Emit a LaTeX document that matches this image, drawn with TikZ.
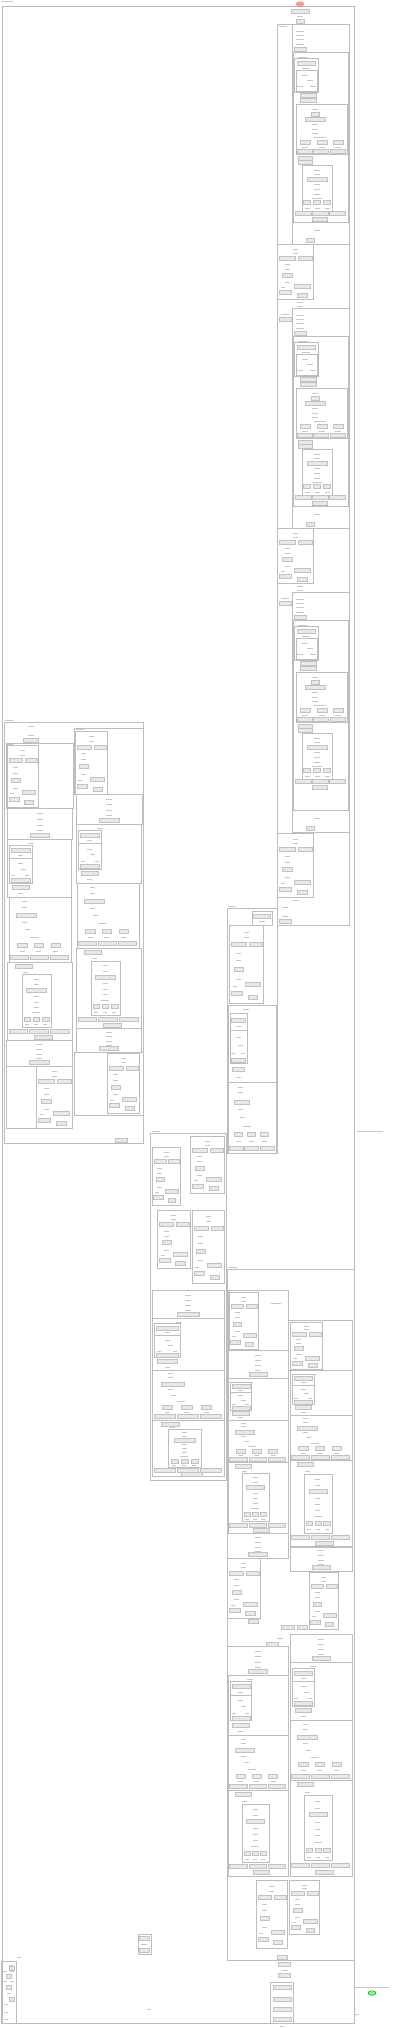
\documentclass[tikz,border=0pt]{standalone}
\begin{document}
\begin{tikzpicture}[x=1pt,y=-1pt,
  box/.style={draw=black!26,line width=0.35pt},
  gn/.style={draw=black!24,fill=black!9,line width=0.2pt},
  tx/.style={draw=black!22,line width=0.5pt}]
\useasboundingbox (0,0) rectangle (400,2028);
\fill[white] (0,0) rectangle (400,2028);
\newcommand{\B}[4]{\draw[box] ({#1},{#2}) rectangle ({#3},{#4});}
\newcommand{\G}[3]{\filldraw[gn] ({#1-(#3)/2},{#2-2}) rectangle ({#1+(#3)/2},{#2+2});}
\newcommand{\T}[3]{\draw[tx] ({#1-(#3)/2},{#2}) -- ({#1+(#3)/2},{#2});}
% core of a composite block: x from 292 to 349
\newcommand{\BlkCore}[2]{%
 \B{292}{#1}{349}{#1+28}
 \T{300}{#1+7}{8}\T{300}{#1+11}{8}\T{300}{#1+15}{8}\T{300}{#1+20}{8}\G{300}{#1+25}{12}
 \B{292}{#1+28}{349}{#1+220+#2}\B{293}{#1+28}{348}{#1+198+#2}
 \T{303}{#1+33}{10}
 \B{294}{#1+34}{318}{#1+68}\G{306}{#1+39}{18}\T{306}{#1+44}{8}
 \B{296}{#1+46}{317}{#1+67}\T{305}{#1+51}{6}\T{310}{#1+56}{6}\T{300}{#1+62}{6}\T{313}{#1+62}{6}
 \G{308}{#1+71}{16}\G{308}{#1+76}{16}
 \B{296}{#1+80}{347}{#1+130}
 \T{315}{#1+85}{6}\G{315}{#1+90}{8}\G{315}{#1+95}{20}\T{315}{#1+100}{6}\T{315}{#1+105}{6}\T{315}{#1+109}{6}\T{320}{#1+113}{12}
 \G{305}{#1+118}{10}\G{322}{#1+118}{10}\G{338}{#1+118}{10}
 \T{305}{#1+123}{6}\T{322}{#1+123}{6}\T{338}{#1+123}{6}
 \G{305}{#1+127}{15}\G{321}{#1+127}{15}\G{338}{#1+127}{15}
 \G{305}{#1+134}{14}\G{305}{#1+138}{14}
 \B{302}{#1+141}{332}{#1+187}
 \T{317}{#1+146}{6}\T{317}{#1+150}{6}\G{317}{#1+155}{20}\T{317}{#1+160}{6}\T{317}{#1+165}{6}\T{317}{#1+170}{6}\T{317}{#1+174}{10}
 \G{307}{#1+178}{7}\G{317}{#1+178}{7}\G{327}{#1+178}{7}
 \T{307}{#1+184}{5}\T{317}{#1+184}{5}\T{327}{#1+184}{5}
 \G{303}{#1+189}{16}\G{320}{#1+189}{16}\G{337}{#1+189}{16}
 \G{320}{#1+195}{15}
 \T{317}{#1+206+#2}{6}\G{310}{#1+216+#2}{8}
}
% generic composite boxes: x1 y1 x2 y2
\newcommand{\AOne}[4]{\B{#1}{#2}{#3}{#4}%
 \pgfmathsetmacro\cx{(#1+#3)/2}\pgfmathsetmacro\hh{#4-#2}\pgfmathsetmacro\ww{#3-#1}%
 \T{\cx}{#2+0.17*\hh}{6}\T{\cx}{#2+0.35*\hh}{6}\T{\cx}{#2+0.55*\hh}{6}\T{\cx}{#2+0.72*\hh}{6}\G{\cx}{#4-3.5}{0.3*\ww}}
\newcommand{\ATwoA}[4]{\B{#1}{#2}{#3}{#4}%
 \pgfmathsetmacro\hh{#4-#2}\pgfmathsetmacro\ww{#3-#1}%
 \T{#1+0.37*\ww}{#2+4}{6}%
 \B{#1+2}{#2+0.1*\hh}{#1+0.39*\ww}{#2+0.33*\hh}%
 \G{#1+0.21*\ww}{#2+0.19*\hh}{0.3*\ww}\T{#1+0.21*\ww}{#2+0.28*\hh}{5}%
 \B{#1+2}{#2+0.33*\hh}{#1+0.39*\ww}{#2+0.76*\hh}%
 \T{#1+0.21*\ww}{#2+0.42*\hh}{5}\T{#1+0.26*\ww}{#2+0.52*\hh}{5}\T{#1+0.1*\ww}{#2+0.63*\hh}{4}\T{#1+0.32*\ww}{#2+0.63*\hh}{4}%
 \G{#1+0.21*\ww}{#2+0.71*\hh}{0.3*\ww}%
 \G{#1+0.21*\ww}{#2+0.83*\hh}{0.27*\ww}\T{#1+0.21*\ww}{#2+0.94*\hh}{5}}
\newcommand{\ATwoB}[4]{\B{#1}{#2}{#3}{#4}%
 \pgfmathsetmacro\hh{#4-#2}\pgfmathsetmacro\ww{#3-#1}%
 \T{#1+0.25*\ww}{#2+0.07*\hh}{5}\T{#1+0.25*\ww}{#2+0.15*\hh}{5}\G{#1+0.28*\ww}{#2+0.28*\hh}{0.32*\ww}%
 \T{#1+0.25*\ww}{#2+0.39*\hh}{5}\T{#1+0.3*\ww}{#2+0.5*\hh}{5}\T{#1+0.4*\ww}{#2+0.62*\hh}{8}%
 \G{#1+0.21*\ww}{#2+0.74*\hh}{0.15*\ww}\G{#1+0.48*\ww}{#2+0.74*\hh}{0.15*\ww}\G{#1+0.75*\ww}{#2+0.74*\hh}{0.15*\ww}%
 \T{#1+0.21*\ww}{#2+0.84*\hh}{5}\T{#1+0.48*\ww}{#2+0.84*\hh}{5}\T{#1+0.75*\ww}{#2+0.84*\hh}{5}%
 \G{#1+0.17*\ww}{#2+0.93*\hh}{0.29*\ww}\G{#1+0.49*\ww}{#2+0.93*\hh}{0.29*\ww}\G{#1+0.81*\ww}{#2+0.93*\hh}{0.29*\ww}}
\newcommand{\ATwoC}[4]{\B{#1}{#2}{#3}{#4}%
 \pgfmathsetmacro\hh{#4-#2}\pgfmathsetmacro\ww{#3-#1}%
 \G{#1+0.25*\ww}{#2+4}{0.26*\ww}\T{#1+0.28*\ww}{#2+0.13*\hh}{5}%
 \B{#1+0.23*\ww}{#2+0.16*\hh}{#1+0.68*\ww}{#2+0.84*\hh}%
 \T{#1+0.45*\ww}{#2+0.22*\hh}{5}\T{#1+0.45*\ww}{#2+0.29*\hh}{5}\G{#1+0.45*\ww}{#2+0.36*\hh}{0.3*\ww}%
 \T{#1+0.45*\ww}{#2+0.44*\hh}{5}\T{#1+0.45*\ww}{#2+0.51*\hh}{5}\T{#1+0.45*\ww}{#2+0.58*\hh}{5}\T{#1+0.45*\ww}{#2+0.65*\hh}{8}%
 \G{#1+0.31*\ww}{#2+0.73*\hh}{0.1*\ww}\G{#1+0.45*\ww}{#2+0.73*\hh}{0.1*\ww}\G{#1+0.59*\ww}{#2+0.73*\hh}{0.1*\ww}%
 \T{#1+0.31*\ww}{#2+0.8*\hh}{4}\T{#1+0.45*\ww}{#2+0.8*\hh}{4}\T{#1+0.59*\ww}{#2+0.8*\hh}{4}%
 \G{#1+0.17*\ww}{#2+0.89*\hh}{0.29*\ww}\G{#1+0.49*\ww}{#2+0.89*\hh}{0.29*\ww}\G{#1+0.81*\ww}{#2+0.89*\hh}{0.29*\ww}%
 \G{#1+0.55*\ww}{#2+0.96*\hh}{0.28*\ww}}
\newcommand{\Side}[4]{\B{#1}{#2}{#3}{#4}%
 \pgfmathsetmacro\hh{#4-#2}\pgfmathsetmacro\ww{#3-#1}%
 \T{#1+0.5*\ww}{#2+0.09*\hh}{5}\T{#1+0.5*\ww}{#2+0.16*\hh}{5}\G{#1+0.28*\ww}{#2+0.25*\hh}{0.44*\ww}\G{#1+0.78*\ww}{#2+0.25*\hh}{0.38*\ww}%
 \T{#1+0.28*\ww}{#2+0.36*\hh}{5}\T{#1+0.28*\ww}{#2+0.45*\hh}{5}\G{#1+0.28*\ww}{#2+0.56*\hh}{0.28*\ww}\T{#1+0.28*\ww}{#2+0.69*\hh}{5}%
 \T{#1+0.17*\ww}{#2+0.78*\hh}{4}\G{#1+0.7*\ww}{#2+0.76*\hh}{0.44*\ww}\G{#1+0.22*\ww}{#2+0.87*\hh}{0.33*\ww}\G{#1+0.7*\ww}{#2+0.92*\hh}{0.28*\ww}}
% top-left label
\T{7}{1}{12}
% outer frame
\draw[draw=black!28,line width=0.8pt] (2,6) rectangle (354,2023);
% start
\filldraw[draw=red!50,fill=red!40] (300,4) ellipse (4 and 2.3);
\G{300}{11}{18}\T{300}{16}{6}\G{300}{21}{8}
% ===== right column composite
\B{277}{24}{349}{925}\T{283}{26}{8}
\BlkCore{24}{0}\Side{277}{244}{313}{299}
\T{300}{302}{6}\T{300}{306}{6}\T{285}{314}{8}\G{285}{319}{12}
\BlkCore{308}{0}\Side{277}{528}{313}{583}
\T{300}{586}{6}\T{300}{590}{6}\T{285}{598}{8}\G{285}{603}{12}
\BlkCore{592}{20}\Side{277}{833}{313}{897}
\T{295}{900}{6}\T{285}{907}{6}\T{285}{916}{6}\G{285}{921}{12}
% ===== left big composite
\B{4}{722}{143}{1143}\T{9}{720}{8}
\T{31}{726}{6}\T{31}{735}{6}\G{31}{740}{15}
\B{6}{743}{73}{808}\T{10}{744}{6}\Side{7}{745}{38}{807}
\AOne{7}{808}{72}{839}
\ATwoA{7}{839}{71}{897}
\ATwoB{9}{897}{71}{962}
\ATwoC{7}{962}{72}{1040}
\AOne{6}{1040}{72}{1066}
\B{6}{1066}{72}{1128}\Side{36}{1066}{72}{1128}
\B{74}{728}{143}{794}\T{80}{729}{8}\Side{75}{731}{107}{794}
\AOne{76}{794}{142}{824}
\ATwoA{76}{824}{141}{883}
\ATwoB{77}{883}{139}{948}
\ATwoC{76}{948}{141}{1028}
\AOne{76}{1028}{141}{1052}
\B{74}{1052}{143}{1115}\Side{107}{1053}{139}{1113}
\G{121}{1140}{12}
% ===== middle column composite
\B{227}{908}{277}{1153}\T{232}{906}{8}
\B{252}{911}{272}{925}\G{262}{916}{17}\T{262}{921}{6}
\Side{229}{925}{263}{1003}
\ATwoA{228}{1005}{276}{1082}
\ATwoB{228}{1082}{276}{1153}
% ===== middle lower composite
\B{150}{1133}{226}{1480}\T{156}{1131}{8}
\Side{152}{1147}{180}{1205}
\Side{190}{1136}{224}{1193}
\Side{157}{1210}{190}{1268}
\Side{192}{1210}{224}{1283}
\AOne{152}{1290}{224}{1318}
\ATwoA{152}{1318}{224}{1370}
\ATwoB{152}{1370}{224}{1420}
\ATwoC{152}{1420}{224}{1476}
% ===== lower right composite
\B{227}{1269}{354}{1960}\T{233}{1267}{8}\T{276}{1303}{10}
\B{228}{1290}{288}{1350}\Side{229}{1292}{258}{1349}
\AOne{228}{1350}{288}{1378}
\ATwoA{228}{1378}{288}{1420}
\ATwoB{228}{1420}{288}{1462}
\ATwoC{228}{1462}{288}{1533}
\AOne{227}{1533}{288}{1558}
\Side{227}{1558}{260}{1618}
\G{253}{1621}{10}
\AOne{227}{1646}{288}{1675}
\ATwoA{228}{1675}{288}{1735}
\ATwoB{228}{1735}{288}{1790}
\ATwoC{228}{1790}{288}{1876}
\B{288}{1320}{352}{1370}\Side{290}{1322}{322}{1369}
\ATwoA{290}{1370}{352}{1415}
\ATwoB{290}{1415}{352}{1460}
\ATwoC{290}{1460}{352}{1547}
\AOne{290}{1546}{352}{1571}
\Side{309}{1572}{338}{1629}
\G{288}{1627}{13}\G{302}{1627}{10}\T{280}{1638}{6}\G{272}{1644}{12}
\AOne{290}{1634}{352}{1662}
\ATwoA{290}{1662}{352}{1720}
\ATwoB{290}{1720}{352}{1780}
\ATwoC{290}{1780}{352}{1876}
\Side{256}{1880}{287}{1948}
\Side{289}{1880}{319}{1934}
\G{282}{1957}{10}
% below lower right
\G{284}{1964}{12}\T{285}{1970}{6}\G{284}{1975}{12}
\B{270}{1982}{293}{2023}
\G{282}{1987}{18}\G{282}{1999}{18}\G{282}{2009}{18}\G{282}{2019}{18}
% bottom-left small composite
\B{1}{1961}{16}{2023}
\T{11}{1965}{4}\G{12}{1968}{5}\T{5}{1971}{4}\T{12}{1971}{4}\G{9}{1976}{5}
\T{5}{1981}{4}\T{12}{1981}{4}\G{9}{1987}{5}\T{9}{1993}{4}\G{12}{1999}{5}\T{6}{2004}{4}\T{6}{2012}{4}\T{6}{2019}{4}
% small box in the middle bottom
\B{138}{1934}{151}{1954}
\G{144}{1938}{10}\T{144}{1944}{6}\G{144}{1950}{10}
\T{19}{1957}{4}\T{149}{2009}{4}\T{357}{2014}{4}\T{282}{2026}{4}
% outside right
\T{370}{1131}{26}
\T{372}{1987}{34}
\filldraw[draw=green!50!black,fill=green!55] (372,1993) ellipse (4 and 2.3);
\end{tikzpicture}
\end{document}
